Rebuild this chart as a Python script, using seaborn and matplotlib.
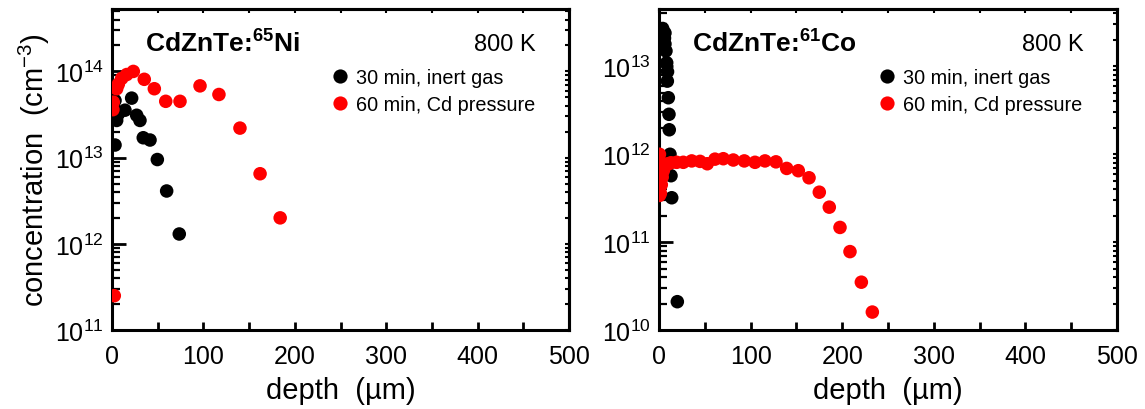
import numpy as np
import pandas as pd
import matplotlib
matplotlib.use("Agg")
import matplotlib.pyplot as plt
import matplotlib.ticker as mticker
import seaborn as sns

sns.set_style("white")
plt.rcParams['font.family'] = ['Liberation Sans', 'DejaVu Sans']
plt.rcParams['mathtext.fontset'] = 'custom'
plt.rcParams['mathtext.rm'] = 'Liberation Sans'
plt.rcParams['mathtext.bf'] = 'Liberation Sans:bold'
for k in ['text.color', 'axes.labelcolor', 'xtick.color', 'ytick.color', 'axes.edgecolor']:
    plt.rcParams[k] = 'black'

# ---- data: left panel (CdZnTe:65Ni) ----
ni_inert_x = [3.3, 21.5, 14.2, 6.9, 27, 30.6, 5.1, 34.2, 41.6, 3.3, 49.6, 59.8, 73.6]
ni_inert_y = [4.6e13, 4.9e13, 3.55e13, 3.2e13, 3.1e13, 2.7e13, 2.7e13, 1.7e13, 1.6e13,
              1.4e13, 9.5e12, 4.1e12, 1.3e12]
ni_cd_x = [1.4, 1.0, 5.1, 6.9, 10.6, 16.1, 23.3, 35.3, 46.3, 58.8, 74.4, 96.3, 117, 140, 162, 184, 2.5]
ni_cd_y = [4.4e13, 3.6e13, 6.3e13, 7.1e13, 8.3e13, 9.2e13, 1.0e14, 8.1e13, 6.3e13, 4.5e13, 4.5e13,
           6.8e13, 5.4e13, 2.2e13, 6.5e12, 2.0e12, 2.5e11]

# ---- data: right panel (CdZnTe:61Co) ----
co_inert_x = [4.0, 6.5, 6.0, 6.5, 7.6, 8.4, 9.3, 9.1, 10.2, 10.9, 11.2, 12.0, 13.1, 13.9, 20.0]
co_inert_y = [2.7e13, 2.4e13, 2.1e13, 1.8e13, 1.5e13, 1.1e13, 8.7e12, 6.8e12, 4.4e12, 2.85e12,
              1.9e12, 1.0e12, 5.7e11, 3.2e11, 2.1e10]
co_cd_x = [0.5, 0.5, 0.5, 0.5, 0.5, 0.5, 0.5, 1.5, 2.5, 3.5, 4.7, 6.0, 8.0, 10.0, 13.0,
           19.3, 26.5, 35.7, 44.8, 52.7, 61.1, 70.2, 81.1, 93.1, 104.8, 115.7, 127.7,
           139.4, 152.1, 163.8, 175, 185.9, 197.6, 208.5, 220.9, 232.9]
co_cd_y = [1.0e12, 8.5e11, 7.0e11, 5.8e11, 4.8e11, 4.0e11, 3.4e11, 3.6e11, 4.5e11, 5.5e11, 6.5e11,
           7.2e11, 7.6e11, 7.8e11, 8.0e11,
           8.1e11, 8.1e11, 8.4e11, 8.3e11, 7.8e11, 8.8e11, 8.9e11, 8.6e11, 8.4e11, 8.1e11,
           8.4e11, 8.2e11, 6.9e11, 6.5e11, 5.4e11, 3.7e11, 2.5e11, 1.47e11, 7.8e10, 3.5e10, 1.6e10]

series_labels = ["30 min, inert gas", "60 min, Cd pressure"]
panel_titles = [r"CdZnTe:$\mathbf{^{65}}$Ni", r"CdZnTe:$\mathbf{^{61}}$Co"]
temperature_label = "800 K"
x_ticks = [0, 100, 200, 300, 400, 500]


def make_df(ix, iy, cx, cy):
    return pd.DataFrame({
        "depth": list(ix) + list(cx),
        "conc": list(iy) + list(cy),
        "series": [series_labels[0]] * len(ix) + [series_labels[1]] * len(cx),
    })


dfs = [make_df(ni_inert_x, ni_inert_y, ni_cd_x, ni_cd_y),
       make_df(co_inert_x, co_inert_y, co_cd_x, co_cd_y)]
ylims = [(1e11, 5.3e14), (1e10, 4.5e13)]

W, H = 1145, 410
fig = plt.figure(figsize=(W / 100, H / 100), dpi=100)
axes_px = [(112, 10, 569, 331), (659, 10, 1117, 331)]

def sup_fmt(v, pos):
    e = int(round(np.log10(v)))
    return r"$\mathregular{10^{%d}}$" % e

for i, (df, (l, t, r, b)) in enumerate(zip(dfs, axes_px)):
    ax = fig.add_axes([l / W, (H - b) / H, (r - l) / W, (b - t) / H])
    sns.scatterplot(data=df, x="depth", y="conc", hue="series",
                    palette={series_labels[0]: "black", series_labels[1]: "#ff0000"},
                    s=95, linewidth=0, ax=ax, zorder=3)
    ax.set_yscale("log")
    ax.set_xlim(0, 500)
    ax.set_ylim(*ylims[i])
    ax.set_xticks(x_ticks)
    ax.xaxis.set_minor_locator(mticker.MultipleLocator(50))
    ax.yaxis.set_major_locator(mticker.LogLocator(base=10, numticks=10))
    ax.yaxis.set_minor_locator(mticker.LogLocator(base=10, subs=np.arange(2, 10), numticks=20))
    ax.yaxis.set_major_formatter(mticker.FuncFormatter(sup_fmt))
    ax.yaxis.set_minor_formatter(mticker.NullFormatter())
    for s in ax.spines.values():
        s.set_linewidth(2.2)
        s.set_color("black")
    ax.tick_params(axis="y", which="major", direction="in", length=10, width=2,
                   labelsize=18, pad=6, left=True, right=False)
    ax.tick_params(axis="y", which="minor", direction="in", length=6, width=1.6,
                   left=True, right=False)
    ax.tick_params(axis="x", which="both", direction="in", length=6, width=2,
                   labelsize=18, pad=10, bottom=True, top=False)
    # mirrored small ticks on top / right
    secx = ax.secondary_xaxis("top")
    secx.set_xticks(x_ticks)
    secx.xaxis.set_minor_locator(mticker.MultipleLocator(50))
    secx.tick_params(axis="x", which="both", direction="in", length=3, width=1.5,
                     labeltop=False)
    secy = ax.secondary_yaxis("right")
    secy.tick_params(axis="y", which="both", direction="in", length=3, width=1.5,
                     labelright=False)
    secy.yaxis.set_minor_formatter(mticker.NullFormatter())
    secy.yaxis.set_major_formatter(mticker.NullFormatter())
    for sec in (secx, secy):
        for s in sec.spines.values():
            s.set_linewidth(2.2)

    ax.set_xlabel("depth  (µm)", fontsize=21, labelpad=6)
    if i == 0:
        ax.set_ylabel(r"concentration  (cm$^{\mathregular{-3}}$)", fontsize=21, labelpad=2)
    else:
        ax.set_ylabel("")
    ax.text(0.072, 0.895, panel_titles[i], transform=ax.transAxes, fontsize=19,
            fontweight="bold", ha="left", va="center")
    ax.text(0.86, 0.89, temperature_label, transform=ax.transAxes, fontsize=17,
            ha="center", va="center")
    sns.move_legend(ax, "upper left", bbox_to_anchor=(0.477, 0.817), frameon=False,
                    title=None, fontsize=14.3, handlelength=1.0, handletextpad=0.3,
                    labelspacing=0.4, markerscale=1.05, borderaxespad=0, borderpad=0)

fig.savefig("out.png", dpi=100)
